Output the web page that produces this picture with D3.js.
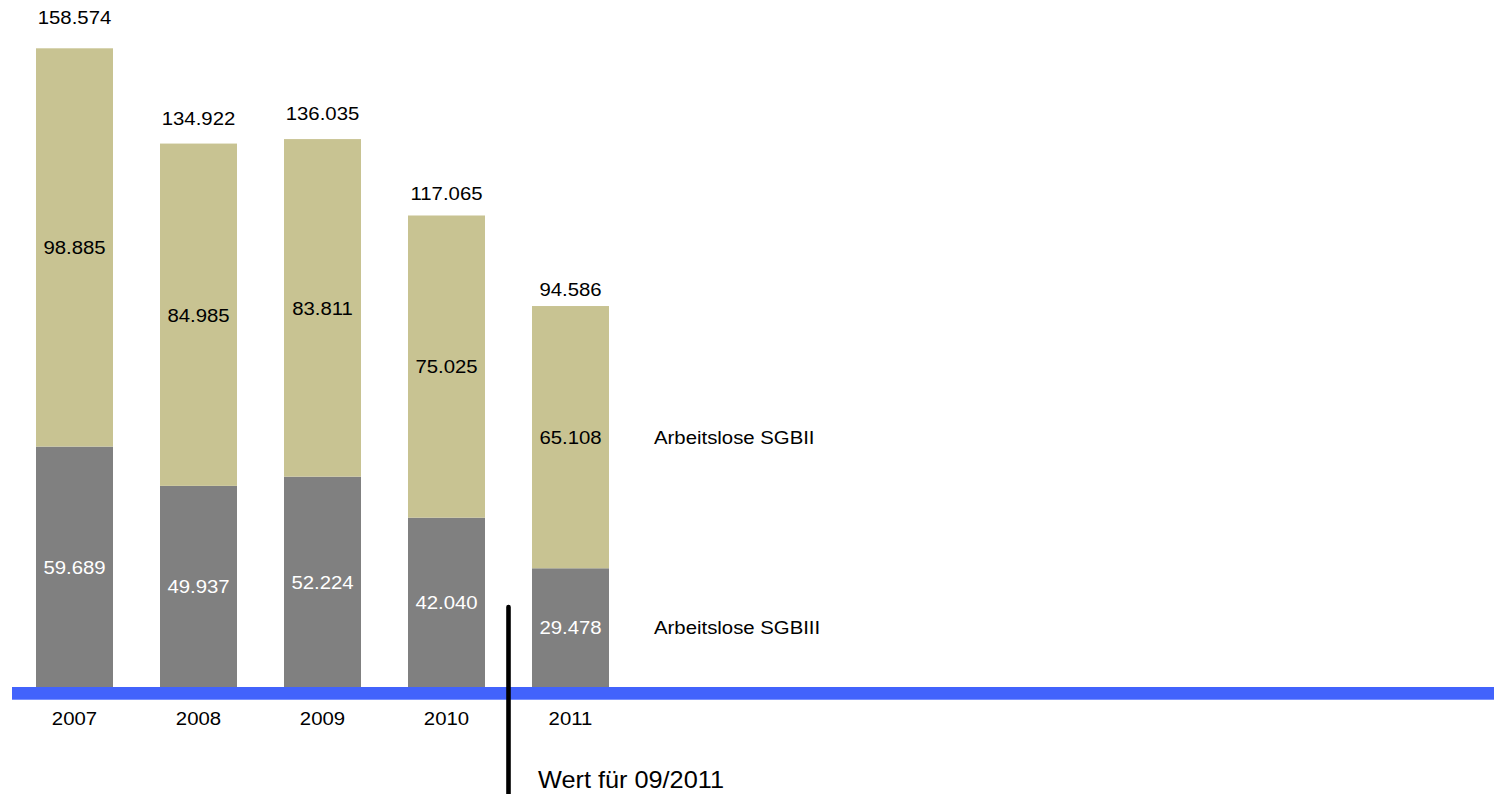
<!DOCTYPE html>
<html>
<head>
<meta charset="utf-8">
<script src="https://cdn.jsdelivr.net/npm/d3@7"></script>
<style>
  html, body { margin: 0; padding: 0; background: #fff; }
  svg { display: block; }
  text { font-family: "Liberation Sans", Arial, sans-serif; }
</style>
</head>
<body>
<div id="chart"></div>
<script>
const years = ['2007', '2008', '2009', '2010', '2011'];
const sgb3 = [59689, 49937, 52224, 42040, 29478];
const sgb2 = [98885, 84985, 83811, 75025, 65108];
const totals = [158574, 134922, 136035, 117065, 94586];
const seriesNames = ['Arbeitslose SGBIII', 'Arbeitslose SGBII'];
const noteText = 'Wert für 09/2011';

const fmt = d3.formatLocale({ decimal: ',', thousands: '.', grouping: [3], currency: ['', '€'] }).format(',d');

const width = 1494, height = 794;
const baseY = 687;

const svg = d3.select('#chart').append('svg')
  .attr('width', width)
  .attr('height', height);

const x = d3.scaleBand()
  .domain(years)
  .range([12.5, 632.5])
  .paddingInner(0.379)
  .paddingOuter(0.1895);

const y = d3.scaleLinear()
  .domain([0, 158574])
  .range([baseY, 48.3]);

// total labels sit on their own (slightly steeper) scale, like in the original
const yLabel = d3.scaleLinear()
  .domain([0, 158574])
  .range([696.8, 24.3]);

const colors = ['#808080', '#c8c392'];
const textColors = ['#ffffff', '#000000'];

const stack = d3.stack().keys([0, 1]);
const rows = years.map((yr, i) => ({ year: yr, 0: sgb3[i], 1: sgb2[i] }));
const layers = stack(rows);

// stretched text like the source image
function label(g, tx, ty, txt, size, anchor, fill) {
  return g.append('text')
    .attr('transform', `translate(${tx},${ty}) scale(1.1,1)`)
    .attr('text-anchor', anchor)
    .attr('font-size', size)
    .attr('fill', fill)
    .text(txt);
}

layers.forEach((layer, k) => {
  svg.append('g')
    .selectAll('rect')
    .data(layer)
    .enter().append('rect')
    .attr('x', d => x(d.data.year))
    .attr('y', d => y(d[1]))
    .attr('width', x.bandwidth())
    .attr('height', d => y(d[0]) - y(d[1]))
    .attr('fill', colors[k]);
});

const labels = svg.append('g');

layers.forEach((layer, k) => {
  layer.forEach(d => {
    const cx = x(d.data.year) + x.bandwidth() / 2;
    const cy = (y(d[0]) + y(d[1])) / 2 + 6.8;
    label(labels, cx, cy, fmt(d[1] - d[0]), 18.5, 'middle', textColors[k]);
  });
  // series name next to the last bar
  const last = layer[layer.length - 1];
  label(labels, 654, (y(last[0]) + y(last[1])) / 2 + 6.8, seriesNames[k], 18.5, 'start', '#000');
});

totals.forEach((t, i) => {
  label(labels, x(years[i]) + x.bandwidth() / 2, yLabel(t), fmt(t), 18.5, 'middle', '#000');
});

// baseline
svg.append('rect')
  .attr('x', 12)
  .attr('y', baseY)
  .attr('width', width - 12)
  .attr('height', 12.7)
  .attr('fill', '#4263fc');

// year labels
years.forEach(yr => {
  label(labels, x(yr) + x.bandwidth() / 2, 725, yr, 18.5, 'middle', '#000');
});

// marker line between 2010 and 2011
const mx = x('2011') - x.step() * x.paddingInner() / 2;
svg.append('line')
  .attr('x1', mx).attr('x2', mx)
  .attr('y1', 607).attr('y2', height + 10)
  .attr('stroke', '#000')
  .attr('stroke-width', 4.6)
  .attr('stroke-linecap', 'round');

label(svg, 538, 788, noteText, 23, 'start', '#000');
</script>
</body>
</html>
